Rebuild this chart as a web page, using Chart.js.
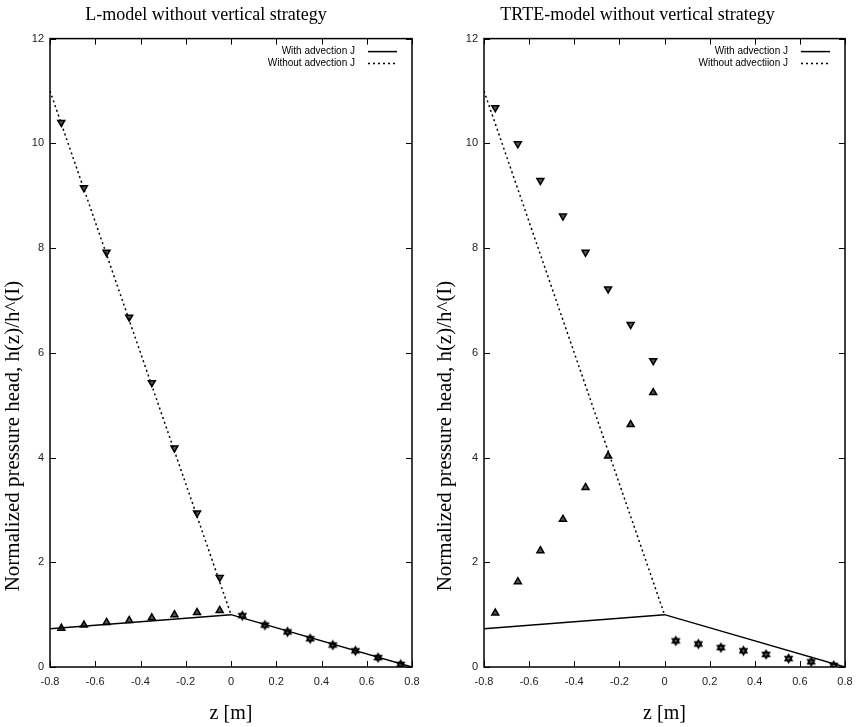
<!DOCTYPE html>
<html>
<head>
<meta charset="utf-8">
<script src="https://cdn.jsdelivr.net/npm/chart.js@4.4.0/dist/chart.umd.min.js"></script>
<style>
  body { margin: 0; background: #fff; }
  #wrap { position: relative; width: 857px; height: 727px; }
  .panel { position: absolute; top: 0; }
</style>
</head>
<body>
<div id="wrap">
  <canvas id="left" class="panel" width="430" height="727" style="left:0"></canvas>
  <canvas id="right" class="panel" width="427" height="727" style="left:430px"></canvas>
</div>
<script>
// analytic curves
const lineZ = [-0.8, 0, 0.8]
const withAdvLine = [0.73, 1, 0]
const dottedZ = [-0.8, 0]
const withoutAdvLine = [11, 1]

// sample points
const negZ = [-0.75, -0.65, -0.55, -0.45, -0.35, -0.25, -0.15, -0.05]
const posZ = [0.05, 0.15, 0.25, 0.35, 0.45, 0.55, 0.65, 0.75]

const leftUp = [0.74, 0.80, 0.85, 0.89, 0.94, 1.00, 1.04, 1.08]
const leftDown = [10.40, 9.15, 7.92, 6.68, 5.43, 4.18, 2.94, 1.71]
const leftStar = [0.98, 0.80, 0.67, 0.54, 0.42, 0.31, 0.18, 0.05]

const rightUp = [1.03, 1.63, 2.22, 2.82, 3.43, 4.03, 4.63, 5.24]
const rightDown = [10.68, 9.99, 9.29, 8.61, 7.92, 7.22, 6.54, 5.85]
const rightStar = [0.50, 0.44, 0.37, 0.31, 0.24, 0.16, 0.10, 0.03]

const leftLabels = ['With advection J', 'Without advection J']
const rightLabels = ['With advection J', 'Without advectiion J']

const yAxisTitle = 'Normalized pressure head, h(z)/h^(I)'
const xAxisTitle = 'z [m]'

const sans = '"Liberation Sans", Arial, sans-serif'
const serif = '"Liberation Serif", "Times New Roman", serif'

function pts(xs, ys) { return xs.map((x, i) => ({ x, y: ys[i] })) }

function starImage() {
  const c = document.createElement('canvas')
  c.width = c.height = 13
  const g = c.getContext('2d')
  g.fillStyle = '#000'
  for (const off of [-90, 90]) {
    g.beginPath()
    for (let k = 0; k < 3; k++) {
      const a = (off + k * 120) * Math.PI / 180
      const px = 6.5 + 5.5 * Math.cos(a), py = 6.5 + 5.5 * Math.sin(a)
      k ? g.lineTo(px, py) : g.moveTo(px, py)
    }
    g.closePath()
    g.fill()
  }
  g.fillStyle = '#888'
  g.beginPath(); g.arc(6.5, 6.5, 1.1, 0, Math.PI * 2); g.fill()
  return c
}
const starStyle = starImage()

const framePlugin = {
  id: 'frame',
  afterDraw(chart) {
    const { ctx, chartArea: a, scales } = chart
    ctx.save()
    ctx.strokeStyle = '#000'
    ctx.lineWidth = 1.5
    ctx.strokeRect(a.left, a.top, a.right - a.left, a.bottom - a.top)
    ctx.lineWidth = 1
    ctx.beginPath()
    scales.x.ticks.forEach(t => {
      const px = Math.round(scales.x.getPixelForValue(t.value)) + 0.5
      ctx.moveTo(px, a.bottom); ctx.lineTo(px, a.bottom - 6)
      ctx.moveTo(px, a.top); ctx.lineTo(px, a.top + 6)
    })
    scales.y.ticks.forEach(t => {
      const py = Math.round(scales.y.getPixelForValue(t.value)) + 0.5
      ctx.moveTo(a.left, py); ctx.lineTo(a.left + 6, py)
      ctx.moveTo(a.right, py); ctx.lineTo(a.right - 6, py)
    })
    ctx.stroke()

    // legend: text then line sample
    chart.data.datasets.slice(0, 2).forEach((ds, i) => {
      const y = a.top + 13 + i * 12
      ctx.font = '10px ' + sans
      ctx.textAlign = 'right'
      ctx.textBaseline = 'middle'
      ctx.fillStyle = '#000'
      ctx.fillText(ds.label, a.right - 57, y)
      ctx.beginPath()
      ctx.setLineDash(ds.borderDash || [])
      ctx.lineWidth = ds.borderWidth
      ctx.moveTo(a.right - 44, y); ctx.lineTo(a.right - 15, y)
      ctx.stroke()
      ctx.setLineDash([])
    })

    // rotated y-axis title
    const opts = chart.options.plugins.ytitle
    ctx.translate(opts.x, a.bottom - 231)
    ctx.rotate(-Math.PI / 2)
    ctx.font = '21px ' + serif
    ctx.textAlign = 'center'
    ctx.textBaseline = 'middle'
    ctx.fillStyle = '#000'
    ctx.fillText(yAxisTitle, 0, 0)
    ctx.restore()
  }
}

function makeChart(id, title, labels, up, down, star, yWidth, padRight, yTitleX) {
  const marker = { showLine: false, borderColor: '#000', backgroundColor: '#555', borderWidth: 1.5, pointRadius: 4 }
  return new Chart(document.getElementById(id), {
    type: 'scatter',
    data: {
      datasets: [
        { label: labels[0], data: pts(lineZ, withAdvLine), showLine: true, borderColor: '#000', borderWidth: 1.5, pointRadius: 0 },
        { label: labels[1], data: pts(dottedZ, withoutAdvLine), showLine: true, borderColor: '#000', borderWidth: 1.5, borderDash: [2, 3], pointRadius: 0 },
        { ...marker, data: pts(negZ, up), pointStyle: 'triangle' },
        { ...marker, data: pts(negZ, down), pointStyle: 'triangle', rotation: 180 },
        { ...marker, data: pts(posZ, star), pointStyle: starStyle }
      ]
    },
    options: {
      responsive: false,
      animation: false,
      devicePixelRatio: 1,
      layout: { padding: { top: 0, right: padRight, bottom: 0, left: 0 } },
      plugins: {
        legend: { display: false },
        tooltip: { enabled: false },
        title: { display: true, text: title, color: '#000', font: { family: serif, size: 18, weight: 'normal', lineHeight: 1.2 }, padding: { top: 4, bottom: 13 } },
        ytitle: { x: yTitleX }
      },
      scales: {
        x: {
          type: 'linear', min: -0.8, max: 0.8,
          grid: { display: false, drawTicks: false }, border: { display: false },
          ticks: { stepSize: 0.2, padding: 8, color: '#222', font: { family: sans, size: 11 }, maxRotation: 0,
            callback: v => String(Math.round(v * 10) / 10) },
          title: { display: true, text: xAxisTitle, color: '#000', font: { family: serif, size: 20, lineHeight: 1.2 }, padding: { top: 0, bottom: 1 } },
          afterFit: s => { s.height = 60; s.paddingLeft = 0; s.paddingRight = 0 }
        },
        y: {
          min: 0, max: 12,
          grid: { display: false, drawTicks: false }, border: { display: false },
          ticks: { stepSize: 2, padding: 6, color: '#222', font: { family: sans, size: 11 } },
          afterFit: s => { s.width = yWidth; s.paddingTop = 0; s.paddingBottom = 0 }
        }
      }
    },
    plugins: [framePlugin]
  })
}

makeChart('left', 'L-model without vertical strategy', leftLabels, leftUp, leftDown, leftStar, 50, 18, 13)
makeChart('right', 'TRTE-model without vertical strategy', rightLabels, rightUp, rightDown, rightStar, 54, 12, 15)
</script>
</body>
</html>
